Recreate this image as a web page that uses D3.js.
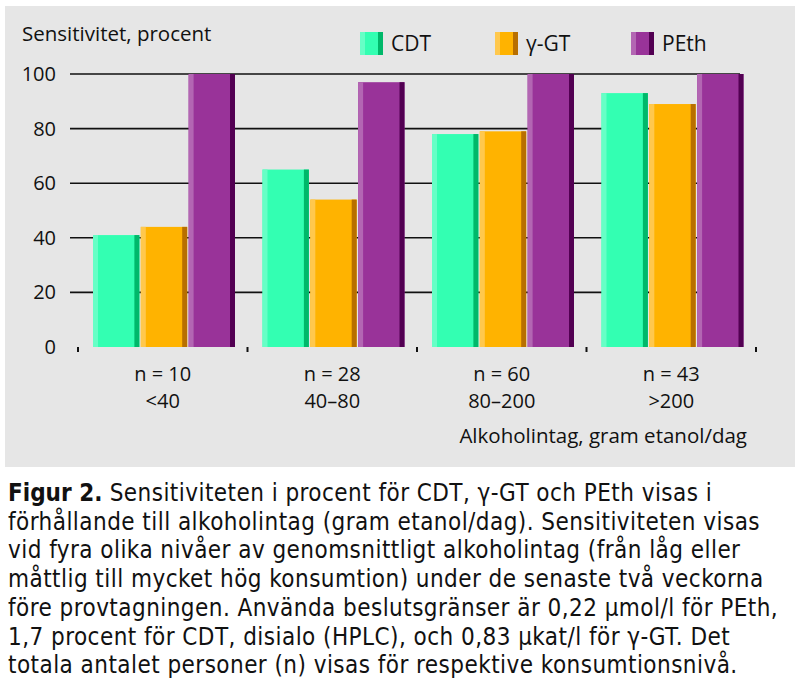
<!DOCTYPE html>
<html>
<head>
<meta charset="utf-8">
<script src="https://cdn.jsdelivr.net/npm/d3@7"></script>
<style>
  body { margin: 0; background: #fff; }
  svg text { font-family: "Open Sans", "Noto Sans", sans-serif; fill: #111; }
</style>
</head>
<body>
<div id="chart"></div>
<script>
const width = 803;
const height = 692;

const groups = ["<40", "40–80", "80–200", ">200"];
const groupN = ["n = 10", "n = 28", "n = 60", "n = 43"];
const series = ["CDT", "γ-GT", "PEth"];
const cdt = [41, 65, 78, 93];
const ggt = [44, 54, 79, 89];
const peth = [100, 97, 100, 100];
const yTicks = [0, 20, 40, 60, 80, 100];

const values = [cdt, ggt, peth];
const colors = [
  { main: "#33ffb2", light: "#66ffc6", dark: "#00b86a" },
  { main: "#ffb300", light: "#ffc84d", dark: "#b86f00" },
  { main: "#993399", light: "#b366b3", dark: "#520052" }
];

const caption = [
  ["Figur 2.", " Sensitiviteten i procent för CDT, γ-GT och PEth visas i"],
  ["", "förhållande till alkoholintag (gram etanol/dag). Sensitiviteten visas"],
  ["", "vid fyra olika nivåer av genomsnittligt alkoholintag (från låg eller"],
  ["", "måttlig till mycket hög konsumtion) under de senaste två veckorna"],
  ["", "före provtagningen. Använda beslutsgränser är 0,22 µmol/l för PEth,"],
  ["", "1,7 procent för CDT, disialo (HPLC), och 0,83 µkat/l för γ-GT. Det"],
  ["", "totala antalet personer (n) visas för respektive konsumtionsnivå."]
];

const svg = d3.select("#chart").append("svg")
    .attr("width", width)
    .attr("height", height);

// gray panel
svg.append("rect")
    .attr("x", 5).attr("y", 6)
    .attr("width", 790).attr("height", 461)
    .attr("fill", "#e6e6e6");

const x = d3.scaleBand().domain(groups).range([78, 756]);
const xs = d3.scaleBand().domain(series).range([15, 157]).paddingInner(0.03);
const y = d3.scaleLinear().domain([0, 100]).range([347, 74]);

// gridlines
svg.append("g").selectAll("line")
    .data(yTicks.filter(d => d > 0))
    .join("line")
    .attr("x1", 70).attr("x2", 740)
    .attr("y1", d => y(d)).attr("y2", d => y(d))
    .attr("stroke", "#111")
    .attr("stroke-width", 1.6);

// y tick labels
svg.append("g").selectAll("text")
    .data(yTicks)
    .join("text")
    .attr("x", 56)
    .attr("y", d => y(d))
    .attr("dy", "0.35em")
    .attr("text-anchor", "end")
    .attr("font-size", 20)
    .text(d => d);

svg.append("text")
    .attr("x", 22).attr("y", 41)
    .attr("font-size", 20.5)
    .text("Sensitivitet, procent");

// bottom ticks
const tickX = groups.map(d => x(d)).concat([x.range()[1]]);
svg.append("g").selectAll("line")
    .data(tickX)
    .join("line")
    .attr("x1", d => d).attr("x2", d => d)
    .attr("y1", y(0)).attr("y2", y(0) + 5)
    .attr("stroke", "#111")
    .attr("stroke-width", 2);

function drawBar(g, bx, by, bw, bh, c) {
    const stripe = 5;
    g.append("rect").attr("x", bx).attr("y", by).attr("width", bw).attr("height", bh).attr("fill", c.main);
    g.append("rect").attr("x", bx).attr("y", by).attr("width", stripe).attr("height", bh).attr("fill", c.light);
    g.append("rect").attr("x", bx + bw - stripe).attr("y", by).attr("width", stripe).attr("height", bh).attr("fill", c.dark);
}

// bars
const barG = svg.append("g");
groups.forEach((grp, gi) => {
    series.forEach((s, si) => {
        const v = values[si][gi];
        drawBar(barG, x(grp) + xs(s), y(v), xs.bandwidth(), y(0) - y(v), colors[si]);
    });
});

// category labels
const catG = svg.append("g").selectAll("g")
    .data(groups)
    .join("g")
    .attr("transform", d => `translate(${x(d) + x.bandwidth() / 2},0)`);
catG.append("text")
    .attr("y", 381).attr("text-anchor", "middle").attr("font-size", 20)
    .text((d, i) => groupN[i]);
catG.append("text")
    .attr("y", 408).attr("text-anchor", "middle").attr("font-size", 20)
    .text(d => d);

svg.append("text")
    .attr("x", 747).attr("y", 443)
    .attr("text-anchor", "end")
    .attr("font-size", 20.5)
    .text("Alkoholintag, gram etanol/dag");

// legend
const legendX = [360, 495, 631];
series.forEach((s, i) => {
    drawBar(svg, legendX[i], 32, 23, 23, colors[i]);
    svg.append("text")
        .attr("x", legendX[i] + 31).attr("y", 43.5)
        .attr("dy", "0.35em")
        .attr("font-size", 21)
        .text(s);
});

// caption
const capG = svg.append("g");
caption.forEach((line, i) => {
    const t = capG.append("text")
        .attr("x", 8)
        .attr("y", 501 + i * 28.7)
        .attr("font-size", 24)
        .attr("letter-spacing", 0.45)
        .style("font-family", "'Liberation Sans Narrow', 'DejaVu Sans Condensed', sans-serif");
    if (line[0]) t.append("tspan").attr("font-weight", "bold").attr("letter-spacing", 0).text(line[0]);
    t.append("tspan").text(line[1]);
});
</script>
</body>
</html>
